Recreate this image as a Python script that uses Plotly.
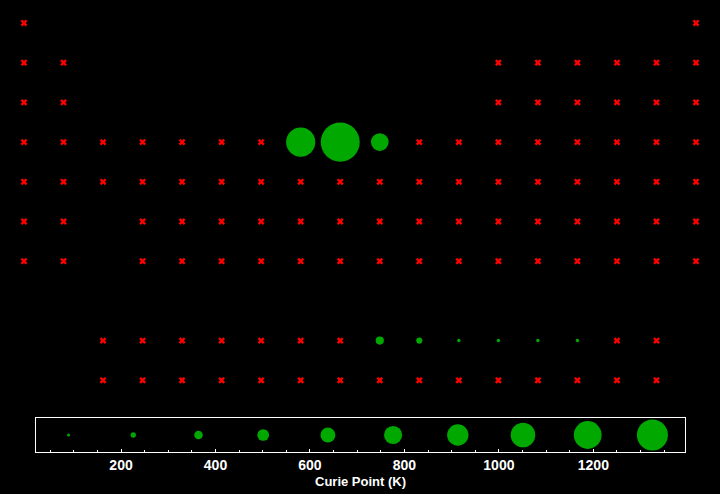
import plotly.graph_objects as go

# Element symbols, periodic-table group (column) and display row, Curie point in K (None = not ferromagnetic)
symbols = [
    "H", "He",
    "Li", "Be", "B", "C", "N", "O", "F", "Ne",
    "Na", "Mg", "Al", "Si", "P", "S", "Cl", "Ar",
    "K", "Ca", "Sc", "Ti", "V", "Cr", "Mn", "Fe", "Co", "Ni", "Cu", "Zn", "Ga", "Ge", "As", "Se", "Br", "Kr",
    "Rb", "Sr", "Y", "Zr", "Nb", "Mo", "Tc", "Ru", "Rh", "Pd", "Ag", "Cd", "In", "Sn", "Sb", "Te", "I", "Xe",
    "Cs", "Ba", "Hf", "Ta", "W", "Re", "Os", "Ir", "Pt", "Au", "Hg", "Tl", "Pb", "Bi", "Po", "At", "Rn",
    "Fr", "Ra", "Rf", "Db", "Sg", "Bh", "Hs", "Mt", "Ds", "Rg", "Cn", "Nh", "Fl", "Mc", "Lv", "Ts", "Og",
    "La", "Ce", "Pr", "Nd", "Pm", "Sm", "Eu", "Gd", "Tb", "Dy", "Ho", "Er", "Tm", "Yb", "Lu",
    "Ac", "Th", "Pa", "U", "Np", "Pu", "Am", "Cm", "Bk", "Cf", "Es", "Fm", "Md", "No", "Lr",
]
groups = (
    [1, 18]
    + [1, 2, 13, 14, 15, 16, 17, 18]
    + [1, 2, 13, 14, 15, 16, 17, 18]
    + list(range(1, 19))
    + list(range(1, 19))
    + [1, 2] + list(range(4, 19))
    + [1, 2] + list(range(4, 19))
    + list(range(3, 18))
    + list(range(3, 18))
)
rows = (
    [1] * 2 + [2] * 8 + [3] * 8 + [4] * 18 + [5] * 18 + [6] * 17 + [7] * 17
    + [9] * 15 + [10] * 15
)
curie_points = {
    "Fe": 1043, "Co": 1394, "Ni": 631,
    "Gd": 292, "Tb": 219, "Dy": 88, "Ho": 20, "Er": 32, "Tm": 25,
}

# size legend values (K)
legend_values = [89, 226, 364, 501, 638, 776, 913, 1051, 1188, 1325]

GREEN = "rgb(0,168,0)"
RED = "rgb(255,0,0)"

fx, fy, fs, ft = [], [], [], []
nx, ny, nt = [], [], []
for s, g, r in zip(symbols, groups, rows):
    if s in curie_points:
        fx.append(g); fy.append(r)
        fs.append(max(3.5, curie_points[s] * 0.028))
        ft.append(f"{s}: {curie_points[s]} K")
    else:
        nx.append(g); ny.append(r); nt.append(s)

fig = go.Figure()
fig.add_trace(go.Scatter(
    x=nx, y=ny, mode="markers", text=nt, hoverinfo="text",
    marker=dict(symbol="x", size=6, color=RED, opacity=1, line=dict(width=0)),
    cliponaxis=False, showlegend=False,
))
fig.add_trace(go.Scatter(
    x=fx, y=fy, mode="markers", text=ft, hoverinfo="text",
    marker=dict(symbol="circle", size=fs, color=GREEN, opacity=1, line=dict(width=0)),
    cliponaxis=False, showlegend=False,
))
fig.add_trace(go.Scatter(
    x=legend_values, y=[0] * len(legend_values), mode="markers",
    marker=dict(symbol="circle", size=[max(3, v * 0.0234) for v in legend_values],
                color=GREEN, opacity=1, line=dict(width=0)),
    xaxis="x2", yaxis="y2", hoverinfo="x", showlegend=False, cliponaxis=False,
))

font_bold = dict(family="Liberation Sans, Arial, sans-serif", size=14, color="white", weight="bold")
font_title = dict(family="Liberation Sans, Arial, sans-serif", size=13, color="white", weight="bold")

fig.update_layout(
    width=720, height=494,
    margin=dict(l=0, r=0, t=0, b=0),
    paper_bgcolor="black", plot_bgcolor="black",
    xaxis=dict(visible=False, range=[0.393, 18.607], domain=[0, 1]),
    yaxis=dict(visible=False, range=[10.5, 0.42], domain=[0.19, 1]),
    xaxis2=dict(
        domain=[36 / 720, 685 / 720], anchor="y2", range=[20, 1394],
        showline=True, linecolor="white", linewidth=1, mirror=True,
        showgrid=False, zeroline=False,
        ticks="inside", ticklen=3, tickcolor="white", tickwidth=1,
        tick0=0, dtick=200, tickfont=font_bold,
        minor=dict(ticks="inside", ticklen=2, tickcolor="white", dtick=50, tick0=0, showgrid=False),
        title=dict(text="Curie Point (K)", font=font_title, standoff=5),
    ),
    yaxis2=dict(
        domain=[(494 - 452) / 494, (494 - 418) / 494], anchor="x2", range=[-1, 1],
        showline=True, linecolor="white", linewidth=1, mirror=True,
        showgrid=False, zeroline=False, showticklabels=False, ticks="",
    ),
)

fig.write_html("out.html")
